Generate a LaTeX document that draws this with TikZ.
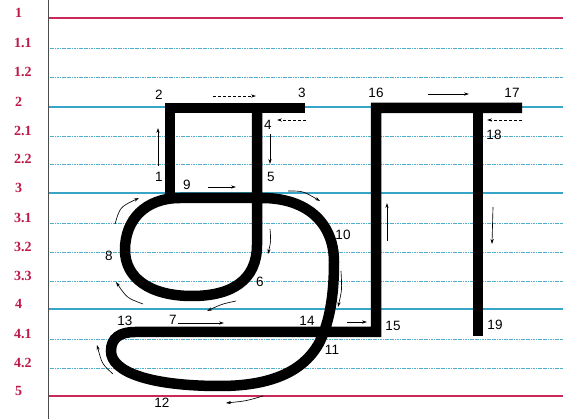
\documentclass[tikz,border=0pt]{standalone}
\usepackage{fontspec}
\setmainfont{Liberation Serif}
\setsansfont{Liberation Sans}
\usetikzlibrary{arrows.meta}
\definecolor{redline}{HTML}{C8285A}
\definecolor{redlab}{HTML}{BE1848}
\definecolor{blueline}{HTML}{38A4C6}
\definecolor{bluedot}{HTML}{4FAFCB}
\tikzset{
  guide/.style={bluedot, line width=0.9pt, dash pattern=on 1.2pt off 0.5pt},
  mainguide/.style={blueline, line width=1.5pt},
  redguide/.style={redline, line width=1.5pt},
  lvl/.style={anchor=base west, inner sep=0pt, text=redlab, font=\fontsize{14}{14}\selectfont\bfseries},
  num/.style={inner sep=0pt, font=\sffamily\fontsize{13.5}{14}\selectfont},
  stroke/.style={line width=10.5pt, line join=miter, line cap=butt},
  dir/.style={line width=0.65pt, -{Stealth[length=5pt,width=3.2pt]}},
  ddir/.style={dir, densely dashed},
}
\begin{document}
\begin{tikzpicture}[x=1pt,y=-1pt]
\useasboundingbox (0,0) rectangle (563,419);
\fill[white] (0,0) rectangle (563,419);
% guide lines
\foreach \y in {48,77,136,164,223,252,281,339,368}{\draw[guide] (48,\y) -- (563,\y);}
\foreach \y in {107,193,309}{\draw[mainguide] (48,\y) -- (563,\y);}
\foreach \y in {18,396}{\draw[redguide] (48,\y) -- (563,\y);}
\draw[black!70, line width=0.8pt] (48,0) -- (48,419);
% level labels
\node[lvl] (l1) at (15,18) {1};
\node[lvl] (l11) at (14,48) {1.1};
\node[lvl] (l12) at (14,77) {1.2};
\node[lvl] (l2) at (15,107) {2};
\node[lvl] (l21) at (14,136) {2.1};
\node[lvl] (l22) at (14,164) {2.2};
\node[lvl] (l3) at (15,193) {3};
\node[lvl] (l31) at (14,223) {3.1};
\node[lvl] (l32) at (14,252) {3.2};
\node[lvl] (l33) at (14,281) {3.3};
\node[lvl] (l4) at (15,309) {4};
\node[lvl] (l41) at (14,339) {4.1};
\node[lvl] (l42) at (14,368) {4.2};
\node[lvl] (l5) at (15,396) {5};
% letter strokes
\draw[stroke] (170,198) -- (170,108) -- (305,108);
\draw[stroke] (257,108) -- (257,245) .. controls (257,280) and (232,296) .. (192,296)
  .. controls (150,296) and (125,278) .. (125,250)
  .. controls (125,220) and (145,198) .. (180,198) -- (262,198)
  .. controls (306,198) and (334,222) .. (334,262)
  .. controls (334,298) and (329,325) .. (318,345)
  .. controls (302,372) and (270,386) .. (220,386)
  .. controls (150,386) and (111,372) .. (111,351)
  .. controls (111,338) and (120,332) .. (135,332) -- (376,332) -- (376,108) -- (522,108);
\draw[stroke] (478,108) -- (478,336);
% numbers
\node[num] (n1) at (159,177) {1};
\node[num] (n2) at (159,95) {2};
\node[num] (n3) at (302,93) {3};
\node[num] (n4) at (268,125) {4};
\node[num] (n5) at (271,177) {5};
\node[num] (n6) at (260,282) {6};
\node[num] (n7) at (173,320) {7};
\node[num] (n8) at (109,256) {8};
\node[num] (n9) at (187,185) {9};
\node[num] (n10) at (343,235) {10};
\node[num] (n11) at (332,350) {11};
\node[num] (n12) at (162,403) {12};
\node[num] (n13) at (125,321) {13};
\node[num] (n14) at (307,321) {14};
\node[num] (n15) at (393,326) {15};
\node[num] (n16) at (376,93) {16};
\node[num] (n17) at (512,93) {17};
\node[num] (n18) at (494,135) {18};
\node[num] (n19) at (495,325) {19};
% direction arrows
\coordinate (a1s) at (158,166); \coordinate (a1e) at (158,128);
\draw[dir] (a1s) -- (a1e);
\coordinate (a2s) at (213,96); \coordinate (a2e) at (256,96);
\draw[ddir] (a2s) -- (a2e);
\coordinate (a3s) at (306,120); \coordinate (a3e) at (277,120);
\draw[ddir] (a3s) -- (a3e);
\coordinate (a4s) at (270,134); \coordinate (a4e) at (270,164);
\draw[dir] (a4s) -- (a4e);
\coordinate (a5s) at (270,229); \coordinate (a5e) at (268,254);
\draw[dir] (a5s) .. controls (271,241) .. (a5e);
\coordinate (a6s) at (236,301); \coordinate (a6e) at (207,311);
\draw[dir] (a6s) .. controls (222,304) .. (a6e);
\coordinate (a7s) at (143,304); \coordinate (a7e) at (116,282);
\draw[dir] (a7s) .. controls (127,298) .. (a7e);
\coordinate (a8s) at (115,224); \coordinate (a8e) at (139,198);
\draw[dir] (a8s) .. controls (120,207) .. (a8e);
\coordinate (a9s) at (208,187); \coordinate (a9e) at (236,187);
\draw[dir] (a9s) -- (a9e);
\coordinate (a10s) at (288,191); \coordinate (a10e) at (320,201);
\draw[dir] (a10s) .. controls (303,191) .. (a10e);
\coordinate (a11s) at (341,271); \coordinate (a11e) at (338,307);
\draw[dir] (a11s) .. controls (342,290) .. (a11e);
\coordinate (a12s) at (263,396); \coordinate (a12e) at (226,403);
\draw[dir] (a12s) .. controls (246,401) .. (a12e);
\coordinate (a13s) at (113,374); \coordinate (a13e) at (97,345);
\draw[dir] (a13s) .. controls (102,364) .. (a13e);
\coordinate (a14s) at (178,323); \coordinate (a14e) at (224,323);
\draw[dir] (a14s) -- (a14e);
\coordinate (a15s) at (347,322); \coordinate (a15e) at (367,322);
\draw[dir] (a15s) -- (a15e);
\coordinate (a16s) at (387,241); \coordinate (a16e) at (387,203);
\draw[dir] (a16s) -- (a16e);
\coordinate (a17s) at (428,94); \coordinate (a17e) at (469,94);
\draw[dir] (a17s) -- (a17e);
\coordinate (a18s) at (522,120); \coordinate (a18e) at (487,120);
\draw[ddir] (a18s) -- (a18e);
\coordinate (a19s) at (493,207); \coordinate (a19e) at (492,244);
\draw[dir] (a19s) -- (a19e);
\end{tikzpicture}
\end{document}
